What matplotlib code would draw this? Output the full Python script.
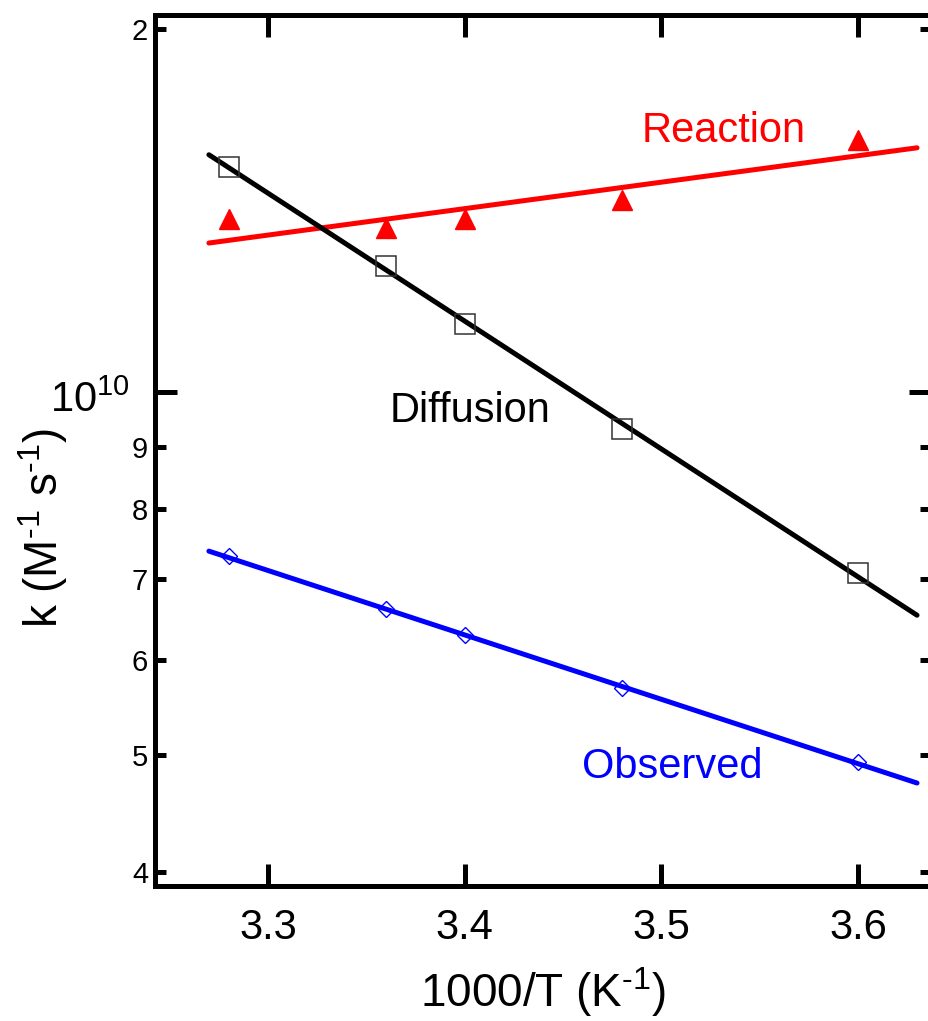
import numpy as np
import matplotlib
matplotlib.use("Agg")
import matplotlib.pyplot as plt

plt.rcParams['font.family'] = ['Liberation Sans', 'DejaVu Sans']
plt.rcParams['mathtext.fontset'] = 'custom'
plt.rcParams['mathtext.rm'] = 'Liberation Sans'
plt.rcParams['mathtext.it'] = 'Liberation Sans'

# data
invT = [3.28, 3.36, 3.40, 3.48, 3.60]
k_diff = [1.537e10, 1.272e10, 1.139e10, 9.32e9, 7.08e9]
k_react = [1.391e10, 1.368e10, 1.391e10, 1.443e10, 1.618e10]
k_obs = [7.31e9, 6.61e9, 6.29e9, 5.68e9, 4.93e9]

# fitted lines (end points)
fit_x = [3.27, 3.63]
fit_diff = [1.573e10, 6.53e9]
fit_react = [1.329e10, 1.594e10]
fit_obs = [7.38e9, 4.74e9]

xticks = [3.3, 3.4, 3.5, 3.6]
yminor = [4e9, 5e9, 6e9, 7e9, 8e9, 9e9, 2e10]
yminor_labels = ['4', '5', '6', '7', '8', '9', '2']

fig = plt.figure(figsize=(9.29, 10.21), dpi=100)
W, H = 929, 1021
ax = fig.add_axes([155/W, 1-886/H, (931-155)/W, (886-15)/H])

ax.plot(fit_x, fit_react, color='#ff0000', lw=3.6, solid_capstyle='round', zorder=2)
ax.plot(fit_x, fit_diff, color='black', lw=3.6, solid_capstyle='round', zorder=2)
ax.plot(fit_x, fit_obs, color='#0000ff', lw=3.6, solid_capstyle='round', zorder=2)

ax.plot(invT, k_react, ls='none', marker='^', ms=14.5, color='#ff0000', zorder=3)
ax.plot(invT, k_diff, ls='none', marker='s', ms=14, mfc='none', mec='#333333', mew=1.1, zorder=3)
ax.plot(invT, k_obs, ls='none', marker='D', ms=8.5, mfc='none', mec='#0000ff', mew=1.0, zorder=3)

ax.set_yscale('log')
ax.set_xlim(3.2426, 3.6371)
ax.set_ylim(3.894e9, 2.054e10)

ax.set_xticks(xticks)
ax.set_xticklabels(['3.3', '3.4', '3.5', '3.6'])
ax.xaxis.set_minor_locator(matplotlib.ticker.NullLocator())
ax.set_yticks([1e10])
ax.set_yticklabels([''])
ax.set_yticks(yminor, minor=True)
ax.set_yticklabels(yminor_labels, minor=True)

ax.tick_params(axis='x', which='major', direction='in', length=16, width=3.6,
               labelsize=30, pad=16, top=True)
ax.tick_params(axis='y', which='major', direction='in', length=16, width=3.6,
               right=True)
ax.tick_params(axis='y', which='minor', direction='in', length=8, width=3.6,
               labelsize=21, pad=5, right=True)

# label of the 10^10 tick, sitting a little lower than the tick itself
ax.annotate(r'$\mathregular{10^{10}}$', xy=(0, 1e10),
            xycoords=ax.get_yaxis_transform(), xytext=(-18, -14.5),
            textcoords='offset points', fontsize=30, ha='right', va='baseline',
            annotation_clip=False)

for s in ['left', 'top', 'bottom']:
    ax.spines[s].set_linewidth(3.6)
ax.spines['right'].set_visible(False)

ax.text(3.4902, 1.612e10, 'Reaction', color='#ff0000', fontsize=30, ha='left', va='baseline')
ax.text(3.3621, 9.44e9, 'Diffusion', color='black', fontsize=30, ha='left', va='baseline')
ax.text(3.4597, 4.786e9, 'Observed', color='#0000ff', fontsize=30, ha='left', va='baseline')

fig.text(543/W, 1-1007/H, r'1000/T (K$^{\mathregular{\text{-}1}}$)', fontsize=33,
         ha='center', va='baseline')
fig.text(43/W, 1-528/H, r'k (M$^{\mathregular{\text{-}1}}$ s$^{\mathregular{\text{-}1}}$)',
         fontsize=33, rotation=90, ha='center', va='center')

fig.savefig('out.png', dpi=100)
